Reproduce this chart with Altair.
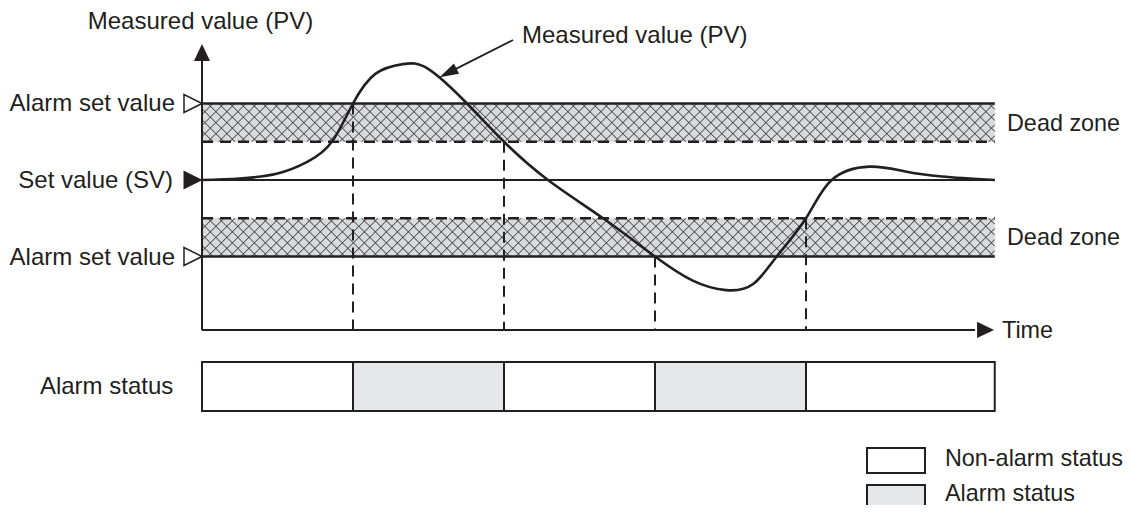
import math
import altair as alt
import pandas as pd

# ---------------- layout of the data space ----------------
W, H = 1116, 497
X_DOM = [-1.28477, 6.10596]
Y_DOM = [-8.4967, 4.4967]

INK = "#231f20"
BAND_FILL = "#d9dadb"
ALARM_FILL = "#e6e7e8"
FONT = "Liberation Sans"
FS = 24
FS_R = 23.4

# ---------------- data ----------------
# levels (value units): set value 0, dead zone edges +/-1, alarm set values +/-2
alarm_hi, dead_hi, set_v, dead_lo, alarm_lo = 2, 1, 0, -1, -2
t_end = 5.25
axis_level = -3.92
axis_top = 3.2
axis_tip_v = 3.333
time_axis_end = 5.12
time_tip_t = 5.189

# measured value (PV) curve
pv_t = [0.0, 0.25, 0.5, 0.7, 0.86, 1.0, 1.15, 1.33, 1.5, 1.755, 2.0, 2.291, 2.656,
        3.0, 3.25, 3.47, 3.65, 3.806, 4.0, 4.17, 4.42, 4.65, 4.9, 5.25]
pv_v = [0.0, 0.04, 0.17, 0.48, 1.0, 2.0, 2.78, 3.03, 2.9, 2.0, 1.0, 0.0, -1.0,
        -2.0, -2.63, -2.88, -2.72, -2.0, -1.0, 0.0, 0.35, 0.23, 0.09, 0.0]

# dead zone bands
band_lo = [dead_hi, alarm_lo]
band_hi = [alarm_hi, dead_lo]
band_label = ["Dead zone", "Dead zone"]

# alarm switching instants and where each dashed marker starts
cross_t = [1, 2, 3, 4]
cross_v = [alarm_hi, dead_hi, alarm_lo, dead_lo]

# alarm status bar
seg_start = [0, 1, 2, 3, 4]
seg_end = [1, 2, 3, 4, t_end]
seg_state = ["Non-alarm status", "Alarm status", "Non-alarm status", "Alarm status", "Non-alarm status"]
status_top, status_bottom = -4.758, -6.039

# legend
legend_labels = ["Non-alarm status", "Alarm status"]
legend_top = [-7.007, -7.974]
legend_bottom = [-7.66, -8.9]
legend_mid = [-7.30, -8.22]
legend_t0, legend_t1, legend_text_t = 4.404, 4.788, 4.92

# left-hand level labels
level_labels = ["Alarm set value", "Set value (SV)", "Alarm set value"]
level_values = [alarm_hi, set_v, alarm_lo]
level_open = [True, False, True]

# annotation arrow
ann_from = (2.06, 3.66)
ann_tip = (1.576, 2.693)

# ---------------- helpers ----------------
xs = alt.Scale(domain=X_DOM, nice=False, zero=False)
ys = alt.Scale(domain=Y_DOM, nice=False, zero=False)


def X(f):
    return alt.X(f"{f}:Q", scale=xs, axis=None)


def Y(f):
    return alt.Y(f"{f}:Q", scale=ys, axis=None)


px_t = W / (X_DOM[1] - X_DOM[0])
px_v = H / (Y_DOM[1] - Y_DOM[0])

# ---------------- bands + cross hatching ----------------
bands = pd.DataFrame({"t0": [0, 0], "t1": [t_end, t_end], "lo": band_lo, "hi": band_hi,
                      "label": band_label})
band_fill = alt.Chart(bands).mark_rect(fill=BAND_FILL).encode(
    x=X("t0"), x2="t1", y=Y("lo"), y2="hi")

m = px_t / px_v
step = 11.0 / px_t
hrows = []
for lo, hi in zip(band_lo, band_hi):
    h = hi - lo
    w = h / m
    c = 0 - w
    while c < t_end:
        ta, tb = max(c, 0), min(c + w, t_end)
        if tb > ta:
            hrows.append({"a": ta, "b": tb, "va": lo + m * (ta - c), "vb": lo + m * (tb - c)})
            hrows.append({"a": ta, "b": tb, "va": hi - m * (ta - c), "vb": hi - m * (tb - c)})
        c += step
hatch = alt.Chart(pd.DataFrame(hrows)).mark_rule(color="#333333", strokeWidth=1.0).encode(
    x=X("a"), x2="b", y=Y("va"), y2="vb")

solid_df = pd.DataFrame({"t0": [0, 0], "t1": [t_end, t_end], "v": [alarm_hi, alarm_lo]})
solid_lines = alt.Chart(solid_df).mark_rule(color=INK, strokeWidth=2.4).encode(
    x=X("t0"), x2="t1", y=Y("v"))
dashed_df = pd.DataFrame({"t0": [0, 0], "t1": [t_end, t_end], "v": [dead_hi, dead_lo]})
dashed_lines = alt.Chart(dashed_df).mark_rule(color=INK, strokeWidth=2.4, strokeDash=[11, 7]).encode(
    x=X("t0"), x2="t1", y=Y("v"))
sv_line = alt.Chart(pd.DataFrame({"t0": [0], "t1": [t_end], "v": [set_v]})).mark_rule(
    color=INK, strokeWidth=1.8).encode(x=X("t0"), x2="t1", y=Y("v"))

vdash = alt.Chart(pd.DataFrame({"t": cross_t, "v": cross_v, "v2": [axis_level] * 4})).mark_rule(
    color=INK, strokeWidth=2, strokeDash=[11, 7]).encode(x=X("t"), y=Y("v"), y2="v2")

# axes
yaxis = alt.Chart(pd.DataFrame({"t": [0], "v": [axis_level], "v2": [axis_top]})).mark_rule(
    color=INK, strokeWidth=2).encode(x=X("t"), y=Y("v"), y2="v2")
xaxis = alt.Chart(pd.DataFrame({"t": [0], "t2": [time_axis_end], "v": [axis_level]})).mark_rule(
    color=INK, strokeWidth=2).encode(x=X("t"), x2="t2", y=Y("v"))
UP = "M0,-1L0.95,1L-0.95,1Z"
RIGHT = "M1,0L-1,0.95L-1,-0.95Z"
yarrow = alt.Chart(pd.DataFrame({"t": [0], "v": [axis_tip_v]})).mark_point(
    shape=UP, filled=True, color=INK, size=289, opacity=1).encode(x=X("t"), y=Y("v"))
xarrow = alt.Chart(pd.DataFrame({"t": [time_tip_t], "v": [axis_level]})).mark_point(
    shape=RIGHT, filled=True, color=INK, size=289, opacity=1).encode(x=X("t"), y=Y("v"))

# curve
curve = alt.Chart(pd.DataFrame({"t": pv_t, "v": pv_v})).mark_line(
    color=INK, strokeWidth=2.6, interpolate="natural").encode(x=X("t"), y=Y("v"))

# level markers on the value axis
marker_t = -9.0 / px_t
mk = pd.DataFrame({"t": [marker_t] * 3, "v": level_values, "open": level_open})
open_mk = alt.Chart(mk[mk["open"]]).mark_point(
    shape="M1,0L-1,1L-1,-1Z", filled=True, fill="white", stroke=INK, strokeWidth=1.5,
    size=324, opacity=1).encode(x=X("t"), y=Y("v"))
full_mk = alt.Chart(mk[~mk["open"]]).mark_point(
    shape="M1,0L-1,1L-1,-1Z", filled=True, color=INK, size=361, opacity=1).encode(
    x=X("t"), y=Y("v"))

# annotation arrow
ddx = (ann_tip[0] - ann_from[0]) * px_t
ddy = -(ann_tip[1] - ann_from[1]) * px_v
L = math.hypot(ddx, ddy)
ux, uy = ddx / L, ddy / L
head_len = 9
head_c = (ann_tip[0] - ux * head_len / px_t, ann_tip[1] + uy * head_len / px_v)
ang = math.degrees(math.atan2(ux, -uy)) % 360
ann_line = alt.Chart(pd.DataFrame({"t": [ann_from[0]], "t2": [head_c[0]], "v": [ann_from[1]],
                                   "v2": [head_c[1]]})).mark_rule(color=INK, strokeWidth=1.8).encode(
    x=X("t"), x2="t2", y=Y("v"), y2="v2")
ann_head = alt.Chart(pd.DataFrame({"t": [head_c[0]], "v": [head_c[1]]})).mark_point(
    shape="M0,-1L0.6,1L-0.6,1Z", filled=True, color=INK, size=361, angle=ang, opacity=1).encode(
    x=X("t"), y=Y("v"))

# status bar
status_df = pd.DataFrame({"t0": seg_start, "t1": seg_end, "state": seg_state,
                          "top": [status_top] * 5, "bot": [status_bottom] * 5})
fill_scale = alt.Scale(domain=legend_labels, range=["white", ALARM_FILL])
status = alt.Chart(status_df).mark_rect(stroke=INK, strokeWidth=2).encode(
    x=X("t0"), x2="t1", y=Y("top"), y2="bot",
    fill=alt.Fill("state:N", scale=fill_scale, legend=None))

legend_df = pd.DataFrame({"label": legend_labels, "top": legend_top, "bot": legend_bottom,
                          "t0": [legend_t0] * 2, "t1": [legend_t1] * 2,
                          "tt": [legend_text_t] * 2, "mid": legend_mid})
legend_boxes = alt.Chart(legend_df).mark_rect(stroke=INK, strokeWidth=2).encode(
    x=X("t0"), x2="t1", y=Y("top"), y2="bot",
    fill=alt.Fill("label:N", scale=fill_scale, legend=None))
legend_text = alt.Chart(legend_df).mark_text(
    align="left", baseline="middle", font=FONT, fontSize=FS_R, color=INK).encode(
    x=X("tt"), y=Y("mid"), text="label:N")

# texts
right_df = pd.DataFrame({"t": [-0.1788, -0.192, -0.1788, -0.19],
                         "v": level_values + [(status_top + status_bottom) / 2],
                         "text": level_labels + ["Alarm status"]})
right_text = alt.Chart(right_df).mark_text(
    align="right", baseline="middle", font=FONT, fontSize=FS, color=INK, dy=1).encode(
    x=X("t"), y=Y("v"), text="text:N")

edge_df = pd.DataFrame({"t": [5.331, 5.331, 5.298],
                        "v": [(band_lo[0] + band_hi[0]) / 2, (band_lo[1] + band_hi[1]) / 2,
                              axis_level],
                        "text": band_label + ["Time"]})
edge_text = alt.Chart(edge_df).mark_text(
    align="left", baseline="middle", font=FONT, fontSize=FS_R, color=INK, dy=1).encode(
    x=X("t"), y=Y("v"), text="text:N")

ann_text = alt.Chart(pd.DataFrame({"t": [2.119], "v": [3.79], "text": ["Measured value (PV)"]})).mark_text(
    align="left", baseline="middle", font=FONT, fontSize=FS, color=INK, dy=1).encode(
    x=X("t"), y=Y("v"), text="text:N")

title_text = alt.Chart(pd.DataFrame({"t": [-0.01], "v": [4.12], "text": ["Measured value (PV)"]})).mark_text(
    align="center", baseline="middle", font=FONT, fontSize=FS, color=INK).encode(
    x=X("t"), y=Y("v"), text="text:N")

chart = alt.layer(
    band_fill, hatch, solid_lines, dashed_lines, sv_line, vdash, yaxis, xaxis,
    curve, yarrow, xarrow, open_mk, full_mk, ann_line, ann_head,
    status, legend_boxes, legend_text, right_text, edge_text, ann_text, title_text,
).properties(
    width=W, height=H, padding=0,
    autosize=alt.AutoSizeParams(type="none"),
).configure_view(strokeWidth=0).resolve_scale(fill="shared")

chart.save("out.html", embed_options={"renderer": "svg", "actions": False})
